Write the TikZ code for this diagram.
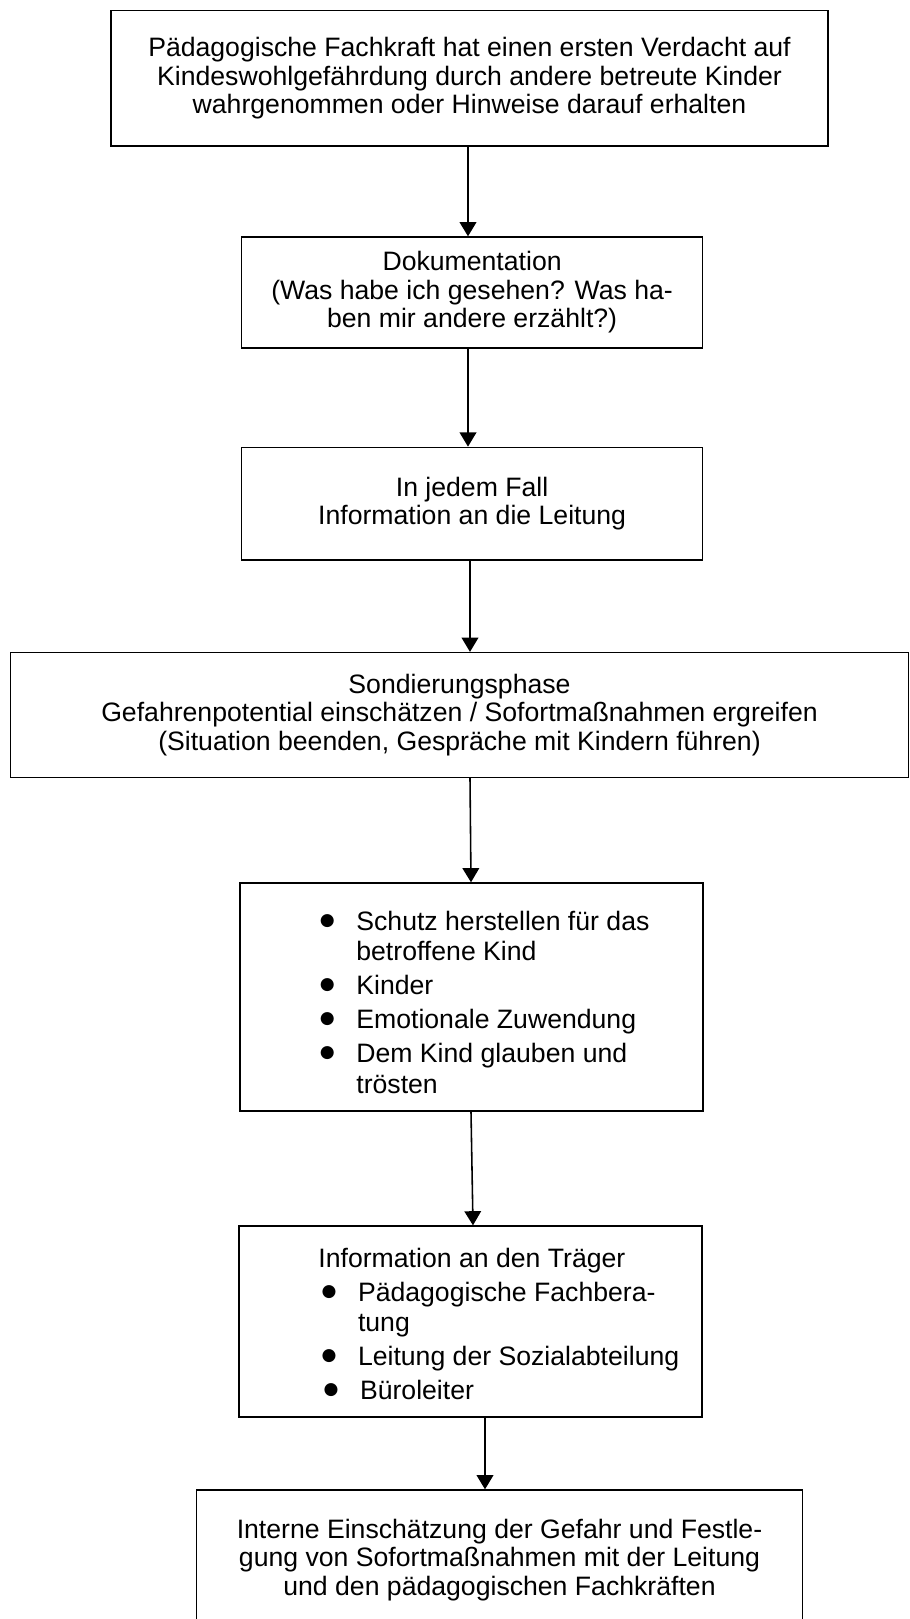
\documentclass[tikz,border=0pt]{standalone}
\usepackage{fontspec}
\setmainfont{Liberation Sans}
\newfontfamily\symfont{DejaVu Sans}
\usetikzlibrary{arrows.meta}

\newcommand{\bul}{\makebox[16.3pt][l]{\hspace*{0.1pt}\raisebox{2.2pt}{\symfont\fontsize{7.6pt}{7.6pt}\selectfont ●}}}
\newcommand{\ein}{\hspace*{16.3pt}}

\begin{document}
\begin{tikzpicture}[
    x=0.445pt, y=-0.445pt,
    every node/.style={font=\fontsize{11.85pt}{12.7pt}\selectfont, inner sep=0pt},
    box/.style={draw, line width=0.6pt, align=center},
    liste/.style={anchor=north west, align=left, font=\fontsize{11.85pt}{13.6pt}\selectfont},
    arr/.style={line width=0.7pt, -{Triangle[length=6.3pt, width=7.4pt]}}
]
\useasboundingbox (0,0) rectangle (910,1619);

\node[box, minimum width=319.1pt, minimum height=60.2pt] (verdacht) at (469.5,78.2)
    {Pädagogische Fachkraft hat einen ersten Verdacht auf\\
     Kindeswohlgefährdung durch andere betreute Kinder\\
     wahrgenommen oder Hinweise darauf erhalten};
\node[box, minimum width=205.1pt, minimum height=49.4pt] (doku) at (472.1,292.5)
    {Dokumentation\\
     (Was habe ich gesehen? Was ha-\\
     ben mir andere erzählt?)};
\node[box, minimum width=205.1pt, minimum height=50.2pt] (leitung) at (472.1,503.7)
    {In jedem Fall\\
     Information an die Leitung};
\node[box, minimum width=399.7pt, minimum height=55.6pt] (sondierung) at (459.5,715)
    {Sondierungsphase\\
     Gefahrenpotential einschätzen / Sofortmaßnahmen ergreifen\\
     (Situation beenden, Gespräche mit Kindern führen)};

% Boxen mit Aufzaehlung
\node[box, minimum width=206pt, minimum height=101.5pt] (schutz) at (471.5,997) {};
\node[liste] (schutzliste) at (319.3,910.4)
    {\bul Schutz herstellen für das\\
     \ein betroffene Kind\\[1.5pt]
     \bul Kinder\\[1.5pt]
     \bul Emotionale Zuwendung\\[1.5pt]
     \bul Dem Kind glauben und\\
     \ein trösten};

\node[box, minimum width=206pt, minimum height=85pt] (traeger) at (470.5,1321.5) {};
\node[liste] (traegerliste) at (318,1247.4)
    {Information an den Träger\\[1.5pt]
     \hspace*{1.3pt}\bul Pädagogische Fachbera-\\
     \hspace*{1.3pt}\ein tung\\[1.5pt]
     \hspace*{1.3pt}\bul Leitung der Sozialabteilung\\[1.5pt]
     \hspace*{2.2pt}\bul Büroleiter};

\node[box, minimum width=269.7pt, minimum height=62.3pt] (intern) at (499.5,1560)
    {Interne Einschätzung der Gefahr und Festle-\\
     gung von Sofortmaßnahmen mit der Leitung\\
     und den pädagogischen Fachkräften};

% Pfeile
\draw[arr] (verdacht.south -| 468,0) -- (doku.north -| 468,0);
\draw[arr] (doku.south -| 468,0) -- (leitung.north -| 468,0);
\draw[arr] (leitung.south -| 470,0) -- (sondierung.north -| 470,0);
\draw[arr] (sondierung.south -| 470,0) -- (schutz.north -| 471,0);
\draw[arr] (schutz.south -| 471,0) -- (traeger.north -| 473,0);
\draw[arr] (traeger.south -| 485,0) -- (intern.north -| 485,0);
\end{tikzpicture}
\end{document}
